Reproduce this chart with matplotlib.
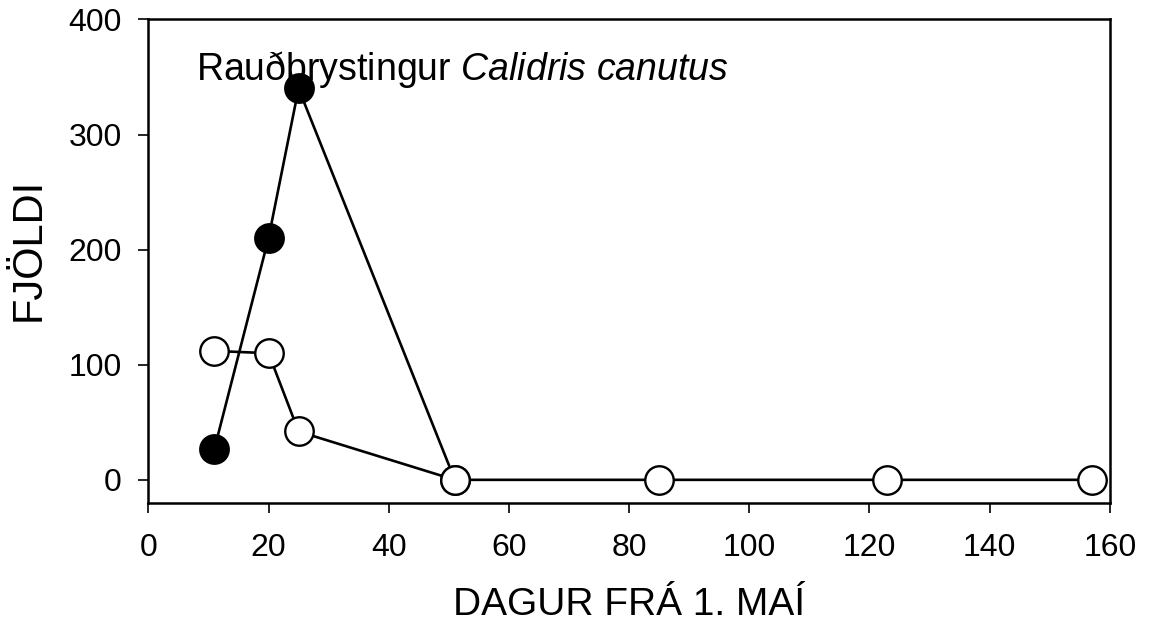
import matplotlib.pyplot as plt

plt.rcParams['font.family'] = ['Liberation Sans', 'DejaVu Sans']
plt.rcParams['mathtext.fontset'] = 'custom'
plt.rcParams['mathtext.it'] = 'Liberation Sans:italic'
plt.rcParams['mathtext.rm'] = 'Liberation Sans'

# Days from 1 May and counts
days_filled = [11, 20, 25, 51]
count_filled = [27, 210, 340, 0]

days_open = [11, 20, 25, 51, 85, 123, 157]
count_open = [112, 110, 42, 0, 0, 0, 0]

fig = plt.figure(figsize=(11.5, 6.27), dpi=100)
ax = fig.add_axes([0.129, 0.198, 0.836, 0.771])

ax.plot(days_filled, count_filled, color='black', linewidth=1.9,
        marker='o', markersize=20.5, markerfacecolor='black',
        markeredgecolor='black', markeredgewidth=1.7, zorder=3)
ax.plot(days_open, count_open, color='black', linewidth=1.9,
        marker='o', markersize=20.5, markerfacecolor='white',
        markeredgecolor='black', markeredgewidth=1.7, zorder=4)

ax.set_xlim(0, 160)
ax.set_ylim(-20, 400)
ax.set_xticks(range(0, 161, 20))
ax.set_yticks(range(0, 401, 100))
ax.tick_params(direction='out', length=7, width=1.2, labelsize=23, pad=12)
ax.tick_params(axis='x', pad=15)
for s in ax.spines.values():
    s.set_linewidth(1.8)

ax.set_xlabel('DAGUR FRÁ 1. MAÍ', fontsize=28, labelpad=17)
ax.set_ylabel('FJÖLDI', fontsize=30)
ax.yaxis.set_label_coords(-0.104, 0.524)

ax.text(8, 347, 'Rauðbrystingur $\\it{Calidris\\ canutus}$', fontsize=27,
        va='baseline', ha='left', zorder=2)

fig.savefig('out.png', dpi=100)
